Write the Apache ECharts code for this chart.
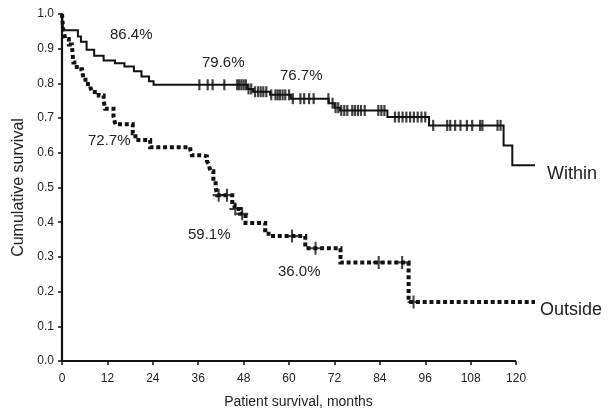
<!DOCTYPE html>
<html><head><meta charset="utf-8">
<script src="https://cdn.jsdelivr.net/npm/echarts@6/dist/echarts.min.js"></script>
<style>html,body{margin:0;padding:0;background:#fff}#c{width:611px;height:414px}</style>
</head><body><div id="c"></div>
<script>
// Kaplan-Meier step data (months, cumulative survival after event)
const withinTimes = [0, 0.3, 4.2, 5.0, 6.5, 8.5, 11, 14, 16.5, 19, 21, 23, 24.2, 49, 50.5, 55, 60.5, 70.5, 72, 73.5, 86, 97, 116.7, 119, 125];
const withinSurv  = [1.0, 0.953, 0.935, 0.92, 0.897, 0.88, 0.866, 0.858, 0.849, 0.835, 0.82, 0.806, 0.796, 0.784, 0.776, 0.767, 0.756, 0.743, 0.73, 0.722, 0.703, 0.679, 0.621, 0.564, 0.564];
const withinCensor = [36.3, 38.5, 39.8, 42.9, 46.3, 46.8, 47.4, 48, 48.6, 49.3, 50, 51, 51.8, 52.5, 53.2, 54, 55.3, 56.4, 57, 57.6, 58.3, 59, 60, 61, 63, 64, 65.3, 66.5, 70.4, 71.5, 72.3, 73, 73.8, 74.6, 75.4, 76.7, 77.4, 78.2, 79, 80, 83.6, 84.4, 85.2, 88, 89, 90, 91, 92, 93, 94, 95, 96, 98.1, 101.8, 102.6, 103.9, 105.3, 107, 108.4, 110.5, 111.1, 115.1, 115.9];

const outsideTimes = [0, 0.2, 0.4, 0.9, 1.8, 2.6, 3.0, 3.9, 5.3, 5.6, 6.2, 7.5, 7.9, 9.7, 11, 11.4, 13.6, 14.1, 18.7, 19.4, 23.3, 33.9, 34.3, 37, 38.3, 38.8, 39.2, 40, 40.6, 41, 45, 45.6, 47.1, 48.5, 53.7, 54.6, 64.3, 73.6, 91.6, 125];
const outsideSurv  = [1.0, 0.97, 0.95, 0.928, 0.912, 0.907, 0.86, 0.841, 0.836, 0.817, 0.798, 0.789, 0.775, 0.765, 0.751, 0.727, 0.704, 0.682, 0.656, 0.637, 0.616, 0.609, 0.593, 0.59, 0.576, 0.566, 0.547, 0.519, 0.5, 0.478, 0.448, 0.438, 0.424, 0.398, 0.377, 0.36, 0.325, 0.284, 0.17, 0.17];
const outsideCensor = [41.4, 43.6, 45.8, 47.6, 60.8, 67.0, 83.7, 89.9, 92.9];

const xTicks = [0, 12, 24, 36, 48, 60, 72, 84, 96, 108, 120];
const yTicks = [0.0, 0.1, 0.2, 0.3, 0.4, 0.5, 0.6, 0.7, 0.8, 0.9, 1.0];

function survAt(t, times, surv) {
  let s = surv[0];
  for (let i = 0; i < times.length; i++) { if (times[i] <= t) s = surv[i]; else break; }
  return s;
}
const withinLine = withinTimes.map((t, i) => [t, withinSurv[i]]);
const outsideLine = outsideTimes.map((t, i) => [t, outsideSurv[i]]);
const withinMarks = withinCensor.map(t => [t, survAt(t, withinTimes, withinSurv)]);
const outsideMarks = outsideCensor.map(t => [t, survAt(t, outsideTimes, outsideSurv)]);

const FONT = '"Liberation Sans", Arial, sans-serif';
const TXT = '#222';
const AX = '#111';
const chart = echarts.init(document.getElementById('c'), null, {renderer: 'canvas'});
chart.setOption({
  animation: false,
  backgroundColor: '#fff',
  grid: {left: 62, right: 76, top: 14, bottom: 48, containLabel: false},
  xAxis: {
    type: 'value', min: 0, max: 125,
    name: 'Patient survival, months', nameLocation: 'middle', nameGap: 34,
    nameTextStyle: {fontFamily: FONT, fontSize: 14, color: TXT},
    axisLine: {show: false},
    axisTick: {show: true, length: 4, customValues: xTicks, lineStyle: {color: AX, width: 1.5}},
    axisLabel: {fontFamily: FONT, fontSize: 12, color: TXT, margin: 12, customValues: xTicks,
      formatter: v => String(v)},
    splitLine: {show: false}
  },
  yAxis: {
    type: 'value', min: 0, max: 1, interval: 0.1,
    name: 'Cumulative survival', nameLocation: 'middle', nameGap: 34,
    nameTextStyle: {fontFamily: FONT, fontSize: 16, color: TXT},
    axisLine: {show: true, lineStyle: {color: AX, width: 2.2}},
    axisTick: {show: true, length: 4, lineStyle: {color: AX, width: 1.5}},
    axisLabel: {fontFamily: FONT, fontSize: 12, color: TXT, margin: 8,
      formatter: v => { const y = yTicks.find(k => Math.abs(k - v) < 1e-6); return y === undefined ? '' : y.toFixed(1); }},
    splitLine: {show: false}
  },
  series: [
    {type: 'line', name: 'Outside', step: 'end', data: outsideLine, showSymbol: false, symbol: 'none',
      lineStyle: {color: '#111', width: 4, type: [4, 2.8], cap: 'butt', join: 'miter'}, z: 2,
      markLine: {silent: true, symbol: 'none', label: {show: false}, animation: false,
        lineStyle: {color: AX, width: 2.2, type: 'solid'},
        data: [[{coord: [xTicks[0], 0]}, {coord: [xTicks[xTicks.length - 1], 0]}]]}},
    {type: 'line', name: 'Within', step: 'end', data: withinLine, showSymbol: false, symbol: 'none',
      lineStyle: {color: '#111', width: 2, join: 'miter'}, z: 3},
    {type: 'scatter', data: withinMarks, symbol: 'rect', symbolSize: [2.2, 11], itemStyle: {color: '#111'}, z: 4},
    {type: 'scatter', data: outsideMarks, symbol: 'path://M5,0 H7 V5 H12 V7 H7 V12 H5 V7 H0 V5 H5 Z', symbolSize: [12, 13], itemStyle: {color: '#111'}, z: 4}
  ],
  graphic: [
    {type: 'text', left: 110, top: 27, style: {text: '86.4%', font: '15px ' + FONT, fill: TXT}},
    {type: 'text', left: 202, top: 55, style: {text: '79.6%', font: '15px ' + FONT, fill: TXT}},
    {type: 'text', left: 280, top: 68, style: {text: '76.7%', font: '15px ' + FONT, fill: TXT}},
    {type: 'text', left: 88, top: 133, style: {text: '72.7%', font: '15px ' + FONT, fill: TXT}},
    {type: 'text', left: 188, top: 227, style: {text: '59.1%', font: '15px ' + FONT, fill: TXT}},
    {type: 'text', left: 278, top: 264, style: {text: '36.0%', font: '15px ' + FONT, fill: TXT}},
    {type: 'text', left: 547, top: 165, style: {text: 'Within', font: '18px ' + FONT, fill: TXT}},
    {type: 'text', left: 540, top: 301, style: {text: 'Outside', font: '18px ' + FONT, fill: TXT}}
  ]
});
</script></body></html>
